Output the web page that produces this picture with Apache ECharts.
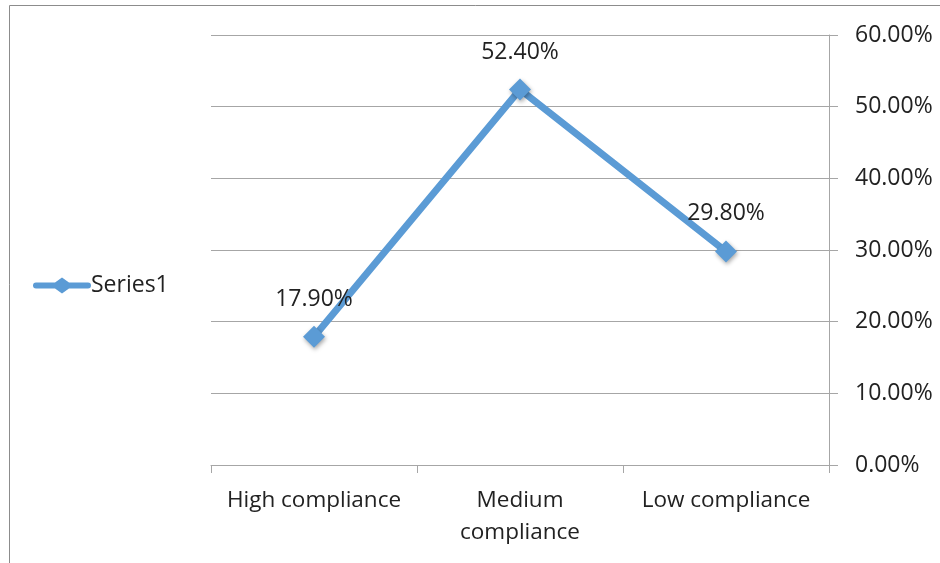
<!DOCTYPE html>
<html><head><meta charset="utf-8">
<script src="https://cdn.jsdelivr.net/npm/echarts@6/dist/echarts.min.js"></script>
<style>html,body{margin:0;padding:0;background:#fff}#c{width:940px;height:563px}</style>
</head><body><div id="c"></div>
<script>
const categories = ['High compliance', 'Medium\ncompliance', 'Low compliance'];
const values = [17.9, 52.4, 29.8];
const seriesName = 'Series1';
const yMin = 0, yMax = 60, yStep = 10;

const chart = echarts.init(document.getElementById('c'));
const font = '"Open Sans", sans-serif';
chart.setOption({
  animation: false,
  graphic: [{type:'rect', shape:{x:9.5,y:5.5,width:1000,height:1000}, style:{fill:'none', stroke:'#8c8c8c', lineWidth:1}, z:-1}],
  legend: {
    left: 33, top: 274, padding: 0, orient: 'vertical', itemWidth: 58, itemHeight: 16, itemGap: 0,
    data: [{name: seriesName, icon: 'path://M3,5 L22,5 L29,0 L36,5 L55,5 Q58,5 58,8 Q58,11 55,11 L36,11 L29,16 L22,11 L3,11 Q0,11 0,8 Q0,5 3,5 Z'}],
    itemStyle: {color: '#5b9bd5'},
    textStyle: {fontFamily: font, fontSize: 23, color: '#222', padding:[0,0,0,-5]}
  },
  grid: {left: 211, right: 111, top: 35, bottom: 98},
  xAxis: {
    type: 'category', data: categories, boundaryGap: true,
    axisLine: {lineStyle: {color: '#a6a6a6', width: 1}},
    axisTick: {show: true, interval: 0, length: 8, lineStyle: {color: '#a6a6a6'}},
    axisLabel: {interval: 0, fontFamily: font, fontSize: 22.5, color: '#222', margin: 20, lineHeight: 32}
  },
  yAxis: {
    type: 'value', position: 'right', min: yMin, max: yMax, interval: yStep,
    axisLine: {show: true, lineStyle: {color: '#a6a6a6'}},
    axisTick: {show: true, inside: false, length: 9, lineStyle: {color: '#a6a6a6'}},
    splitLine: {lineStyle: {color: '#a6a6a6'}},
    axisLabel: {fontFamily: font, fontSize: 23, color: '#222', margin: 26, formatter: v => v.toFixed(2) + '%'}
  },
  series: [{
    name: seriesName, type: 'line', data: values,
    lineStyle: {color: '#5b9bd5', width: 7, cap: 'round'},
    itemStyle: {color: '#5b9bd5', shadowColor: 'rgba(0,0,0,0.35)', shadowBlur: 4, shadowOffsetX: 1, shadowOffsetY: 2},
    symbol: 'diamond', symbolSize: 22,
    label: {show: true, position: 'top', distance: 15, fontFamily: font, fontSize: 23, color: '#222', formatter: p => p.value.toFixed(2) + '%'}
  }]
});
</script></body></html>
